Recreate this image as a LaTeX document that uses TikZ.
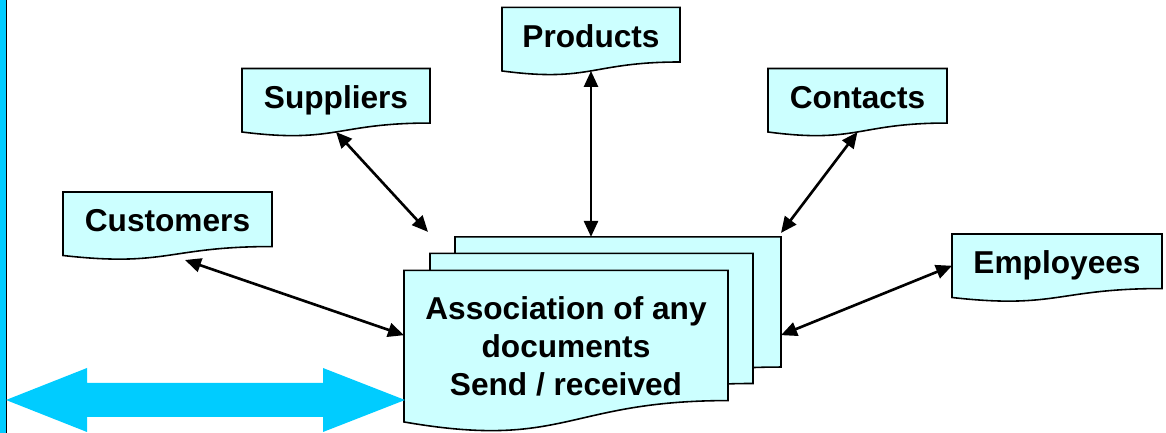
\documentclass[tikz,border=0pt]{standalone}
\usepackage{fontspec}
\setmainfont{Liberation Sans}
\usetikzlibrary{arrows.meta,positioning,calc,backgrounds}

\definecolor{docfill}{HTML}{CCFFFF}
\definecolor{barcyan}{HTML}{00CCFF}

% document outline with wavy bottom, behind the node text
\newcommand{\docoutline}[1]{%
  \begin{pgfonlayer}{background}
    \draw[docline] (#1.north west) -- (#1.north east)
      -- ($(#1.north east)!0.859!(#1.south east)$)
      .. controls ($(#1.north)!0.859!(#1.south)$) and ($(#1.north)!1.186!(#1.south)$)
      .. (#1.south west) -- cycle;
  \end{pgfonlayer}}

\begin{document}
\begin{tikzpicture}[
    docbase/.style={inner sep=0pt, outer sep=0pt, font=\fontsize{18}{21.6}\selectfont\bfseries},
    docbox/.style={docbase, minimum width=#1, minimum height=1.27cm, text height=0.46cm, text depth=0.13cm},
    bigdoc/.style={docbase, minimum width=#1, minimum height=3.03cm, align=center},
    docline/.style={draw=black, line width=0.9pt, fill=docfill},
    linkarrow/.style={{Triangle[length=0.32cm,width=0.28cm]}-{Triangle[length=0.32cm,width=0.28cm]}, line width=1.5pt}
]
    \useasboundingbox (0,0) rectangle (23.32,8.66);

    % left bar
    \fill[barcyan] (0,0) rectangle (0.12,8.66);
    \draw[line width=0.8pt] (0.13,0) -- (0.13,8.66);

    % small documents
    \node[docbox=4.18cm] (cust) at (3.35,4.185) {Customers};
    \node[docbox=3.76cm] (supp) at (6.72,6.655) {Suppliers};
    \node[docbox=3.56cm] (prod) at (11.82,7.876) {Products};
    \node[docbox=3.58cm] (cont) at (17.15,6.655) {Contacts};
    \node[docbox=4.20cm] (empl) at (21.14,3.345) {Employees};
    \docoutline{cust}
    \docoutline{supp}
    \docoutline{prod}
    \docoutline{cont}
    \docoutline{empl}

    % stack of documents
    \node[bigdoc=6.52cm] (back) at (12.36,2.407) {};
    \node[bigdoc=6.46cm] (mid) at (11.83,2.078) {};
    \node[bigdoc=6.48cm] (front) at (11.32,1.736) {Association of any\\documents\\Send / received};
    \docoutline{back}
    \docoutline{mid}
    \docoutline{front}

    % links
    \draw[linkarrow] ([xshift=0.35cm,yshift=-0.09cm]cust.south) -- ([yshift=0.22cm]front.west);
    \draw[linkarrow] (supp.south) -- ([xshift=-0.54cm,yshift=0.1cm]back.north west);
    \draw[linkarrow] (prod.south) -- (prod.south |- back.north);
    \draw[linkarrow] (cont.south) -- ([yshift=0.08cm]back.north east);
    \draw[linkarrow] (empl.west) -- ([yshift=-0.45cm]back.east);

    % big double arrow
    \fill[barcyan] (0.12,0.66) -- (1.74,1.30) -- (1.74,1.00) -- (6.46,1.00) -- (6.46,1.30)
        -- (8.10,0.66) -- (6.46,0.02) -- (6.46,0.32) -- (1.74,0.32) -- (1.74,0.02) -- cycle;
\end{tikzpicture}
\end{document}
